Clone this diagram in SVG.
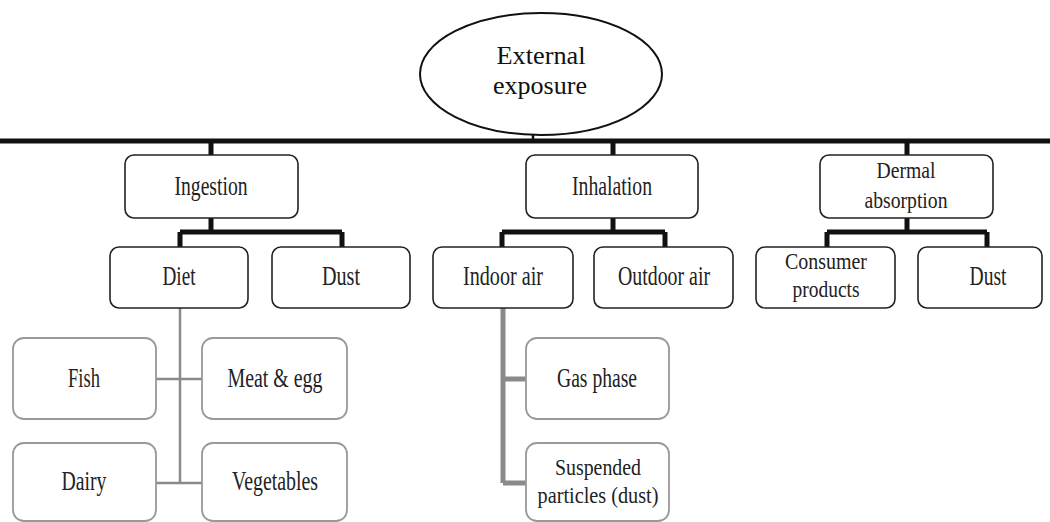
<svg xmlns="http://www.w3.org/2000/svg" width="1050" height="522" viewBox="0 0 1050 522">
<style>
text{font-family:"Liberation Serif","Times New Roman",serif;font-size:27px;fill:#222;text-anchor:middle}
.e{font-size:26px;fill:#111}
.s{font-size:24px}
.b{fill:#fff;stroke:#222;stroke-width:1.6}
.g{fill:#fff;stroke:#999;stroke-width:1.8}
.k{fill:none;stroke:#111;stroke-width:5}
.t{fill:none;stroke:#8a8a8a;stroke-width:2.5}
.w{fill:none;stroke:#8a8a8a;stroke-width:5}
</style>
<g id="connectors">
<path class="k" d="M0 141H1050M211 141V155M613 141V155M907 141V155"/>
<path class="k" d="M533 134V141" style="stroke-width:2.5"/>
<path class="k" d="M211 218V232M180 232H342M180 232V247M342 232V247"/>
<path class="k" d="M613 218V232M502 232H665M502 232V247M665 232V247"/>
<path class="k" d="M907 218V232M827 232H987M827 232V247M987 232V247"/>
<path class="t" d="M180 308V483M156 379H202M156 483H202"/>
<path class="w" d="M503 308V483M503 379H526M503 483H526"/>
</g>
<g id="external"><ellipse cx="541" cy="74" rx="121" ry="61" fill="#fff" stroke="#111" stroke-width="2"/><text class="e" x="541" y="64" textLength="89" lengthAdjust="spacingAndGlyphs">External</text><text class="e" x="540" y="94" textLength="94" lengthAdjust="spacingAndGlyphs">exposure</text></g>
<g id="ingestion"><rect class="b" x="125" y="155" width="173" height="63" rx="9"/><text x="211" y="195" textLength="73" lengthAdjust="spacingAndGlyphs">Ingestion</text></g>
<g id="inhalation"><rect class="b" x="526" y="155" width="172" height="63" rx="9"/><text x="612" y="195" textLength="80" lengthAdjust="spacingAndGlyphs">Inhalation</text></g>
<g id="dermal"><rect class="b" x="820" y="155" width="173" height="63" rx="9"/><text class="s" x="906" y="178" textLength="59" lengthAdjust="spacingAndGlyphs">Dermal</text><text class="s" x="906" y="208" textLength="83" lengthAdjust="spacingAndGlyphs">absorption</text></g>
<g id="diet"><rect class="b" x="110" y="247" width="138" height="61" rx="9"/><text x="179" y="285" textLength="33" lengthAdjust="spacingAndGlyphs">Diet</text></g>
<g id="dust1"><rect class="b" x="272" y="247" width="138" height="61" rx="9"/><text x="341" y="285" textLength="38" lengthAdjust="spacingAndGlyphs">Dust</text></g>
<g id="indoor"><rect class="b" x="433" y="247" width="140" height="61" rx="9"/><text x="503" y="285" textLength="80" lengthAdjust="spacingAndGlyphs">Indoor air</text></g>
<g id="outdoor"><rect class="b" x="594" y="247" width="139" height="61" rx="9"/><text x="664" y="285" textLength="92" lengthAdjust="spacingAndGlyphs">Outdoor air</text></g>
<g id="consumer"><rect class="b" x="756" y="247" width="139" height="61" rx="9"/><text class="s" x="826" y="269" textLength="82" lengthAdjust="spacingAndGlyphs">Consumer</text><text class="s" x="826" y="297" textLength="67" lengthAdjust="spacingAndGlyphs">products</text></g>
<g id="dust2"><rect class="b" x="918" y="247" width="124" height="61" rx="9"/><text x="988" y="285" textLength="37" lengthAdjust="spacingAndGlyphs">Dust</text></g>
<g id="fish"><rect class="g" x="13" y="338" width="143" height="81" rx="11"/><text x="84" y="387" textLength="32" lengthAdjust="spacingAndGlyphs">Fish</text></g>
<g id="meat"><rect class="g" x="202" y="338" width="145" height="81" rx="11"/><text x="275" y="387" textLength="95" lengthAdjust="spacingAndGlyphs">Meat &amp; egg</text></g>
<g id="dairy"><rect class="g" x="13" y="443" width="143" height="78" rx="11"/><text x="84" y="490" textLength="45" lengthAdjust="spacingAndGlyphs">Dairy</text></g>
<g id="vegetables"><rect class="g" x="202" y="443" width="145" height="78" rx="11"/><text x="275" y="490" textLength="86" lengthAdjust="spacingAndGlyphs">Vegetables</text></g>
<g id="gas"><rect class="g" x="526" y="338" width="143" height="81" rx="11"/><text x="597" y="387" textLength="80" lengthAdjust="spacingAndGlyphs">Gas phase</text></g>
<g id="suspended"><rect class="g" x="526" y="443" width="143" height="78" rx="11"/><text class="s" x="598" y="475" textLength="86" lengthAdjust="spacingAndGlyphs">Suspended</text><text class="s" x="598" y="503" textLength="121" lengthAdjust="spacingAndGlyphs">particles (dust)</text></g>
</svg>
